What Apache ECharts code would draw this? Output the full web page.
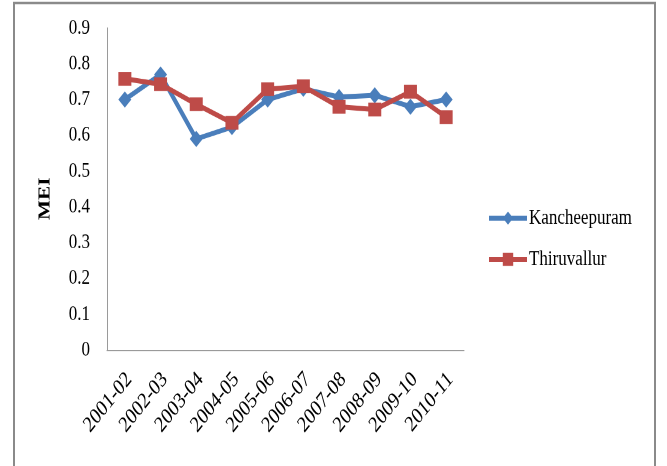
<!DOCTYPE html>
<html>
<head>
<meta charset="utf-8">
<script src="https://cdn.jsdelivr.net/npm/echarts@6/dist/echarts.min.js"></script>
<style>
  html, body { margin: 0; padding: 0; background: #fff; overflow: hidden; }
  #wrap { width: 667px; height: 466px; overflow: hidden; }
  /* The figure is laid out on a shorter canvas and stretched vertically,
     giving the tall, narrow serif lettering of the printed figure. */
  #chart { width: 667px; height: 373px; transform: scaleY(1.25); transform-origin: 0 0; }
</style>
</head>
<body>
<div id="wrap"><div id="chart"></div></div>
<script>
// Financial years on the category axis
const years = ['2001-02', '2002-03', '2003-04', '2004-05', '2005-06',
               '2006-07', '2007-08', '2008-09', '2009-10', '2010-11'];

// MEI values per district
const kancheepuram = [0.70, 0.77, 0.59, 0.623, 0.70, 0.73, 0.707, 0.712, 0.68, 0.70];
const thiruvallur  = [0.758, 0.743, 0.687, 0.635, 0.729, 0.737, 0.68, 0.672, 0.722, 0.651];

// Value-axis ticks
const yTicks = [0, 0.1, 0.2, 0.3, 0.4, 0.5, 0.6, 0.7, 0.8, 0.9];

const serif = '"Liberation Serif", "Times New Roman", serif';
const blue = '#4A7EBB';
const red = '#BE4B48';

const chart = echarts.init(document.getElementById('chart'), null, {
  renderer: 'canvas',
  devicePixelRatio: 2
});

chart.setOption({
  animation: false,
  backgroundColor: '#ffffff',
  textStyle: { fontFamily: serif },
  graphic: [
    {
      type: 'rect',
      shape: { x: 14, y: 2.4, width: 641, height: 400 },
      style: { fill: 'none', stroke: '#8a8a8a', lineWidth: 2 },
      silent: true
    },
    {
      type: 'text',
      x: 45, y: 159,
      rotation: Math.PI / 2,
      style: {
        text: 'MEI',
        font: 'bold 17px ' + serif,
        fill: '#000',
        align: 'center',
        verticalAlign: 'middle'
      }
    }
  ],
  grid: { left: 107, right: 203, top: 22.4, bottom: 93, containLabel: false },
  legend: {
    orient: 'vertical',
    left: 487,
    top: 166,
    padding: 0,
    itemGap: 16,
    itemWidth: 38,
    itemHeight: 13,
    lineStyle: { width: 4 },
    textStyle: { fontFamily: serif, fontSize: 17, color: '#000', padding: [0, 0, 0, -3] },
    data: ['Kancheepuram', 'Thiruvallur']
  },
  xAxis: {
    type: 'category',
    data: years,
    boundaryGap: true,
    axisLine: { show: true, lineStyle: { color: '#9a9a9a', width: 1 } },
    axisTick: { show: false },
    axisLabel: {
      interval: 0,
      rotate: 45,
      margin: 25,
      padding: [0, -6, 0, 0],
      color: '#000',
      fontFamily: serif,
      fontSize: 18
    },
    splitLine: { show: false }
  },
  yAxis: {
    type: 'value',
    min: yTicks[0],
    max: yTicks[yTicks.length - 1],
    interval: 0.1,
    axisLine: { show: true, lineStyle: { color: '#9a9a9a', width: 1 } },
    axisTick: { show: false },
    splitLine: { show: false },
    axisLabel: {
      margin: 17,
      color: '#000',
      fontFamily: serif,
      fontSize: 17,
      formatter: v => {
        const t = yTicks.find(k => Math.abs(k - v) < 1e-9);
        return t === 0 ? '0' : String(+(t ?? v).toFixed(1));
      }
    }
  },
  series: [
    {
      name: 'Kancheepuram',
      type: 'line',
      data: kancheepuram,
      symbol: 'diamond',
      symbolSize: 13,
      lineStyle: { color: blue, width: 4 },
      itemStyle: { color: blue },
      z: 2
    },
    {
      name: 'Thiruvallur',
      type: 'line',
      data: thiruvallur,
      symbol: 'rect',
      symbolSize: [13, 11],
      lineStyle: { color: red, width: 4 },
      itemStyle: { color: red },
      z: 3
    }
  ]
});
</script>
</body>
</html>
